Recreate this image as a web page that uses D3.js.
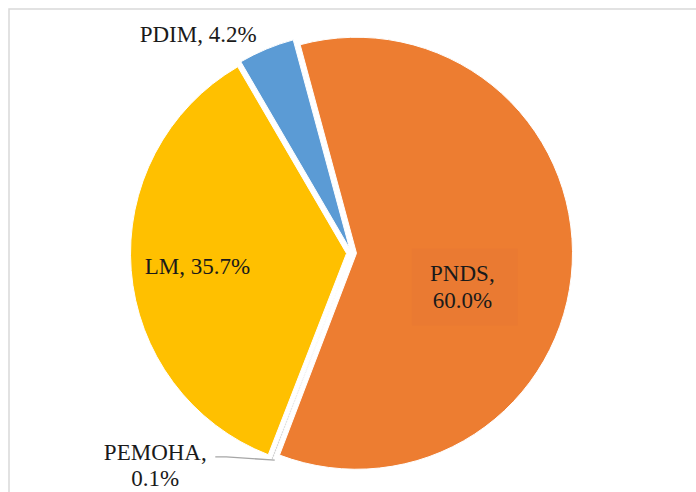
<!DOCTYPE html>
<html lang="en">
<head>
    <meta charset="UTF-8">
    <title>pie</title>
    <script src="https://d3js.org/d3.v7.min.js"></script>
    <style>
        body{ margin:0; background:#fff; }
        svg{ display:block; }
        text{ font-family:"Liberation Serif","Times New Roman",serif; fill:#1a1a1a; }
    </style>
</head>
<body>
    <div id="chart"></div>
    <script>
        // data, in drawing order (clockwise)
        const names = ['PNDS','PEMOHA','LM','PDIM'];
        const values = [60.0, 0.1, 35.7, 4.2];
        const colors = ['#ED7D31','#A5A5A5','#FFC000','#5B9BD5'];

        const width = 696, height = 492;
        const cx = 351.5, cy = 253, r = 216, explode = 5;

        const svg = d3.select('#chart').append('svg')
            .attr('width', width)
            .attr('height', height);

        // chart frame
        svg.append('rect')
            .attr('x', 9).attr('y', 9)
            .attr('width', width).attr('height', height)
            .attr('fill', 'none')
            .attr('stroke', '#d9d9d9')
            .attr('stroke-width', 1.5);

        const total = d3.sum(values);
        const start = -values[3] / total * 2 * Math.PI;
        const pie = d3.pie().sort(null)
            .startAngle(start)
            .endAngle(2 * Math.PI + start);
        const arcs = pie(values);
        const arc = d3.arc().innerRadius(0).outerRadius(r);

        const mid = d => (d.startAngle + d.endAngle) / 2;
        const off = (d, k) => [Math.sin(mid(d)) * k, -Math.cos(mid(d)) * k];

        const g = svg.append('g').attr('transform', `translate(${cx},${cy})`);

        g.selectAll('path')
            .data(arcs)
            .join('path')
            .attr('transform', d => `translate(${off(d, explode)})`)
            .attr('d', arc)
            .attr('fill', (d, i) => colors[i])
            .attr('stroke', '#fff')
            .attr('stroke-width', 1);

        // labels: [radius from centre, dx, dy] per slice
        const labelPos = [[111, 0, 28], [226, -115, 1], [154.5, 0, 1], [228, -65.5, -8.5]];
        const labelLines = names.map((n, i) => {
            const v = values[i].toFixed(1) + '%';
            return (i === 0 || i === 1) ? [n + ',', v] : [n + ', ' + v];
        });

        arcs.forEach((d, i) => {
            const [rr, dx, dy] = labelPos[i];
            const p = off(d, rr);
            const x = p[0] + dx, y = p[1] + dy;
            const lines = labelLines[i];
            const lh = 26.5;

            if (i === 0) {
                // label box inside PNDS
                g.append('rect')
                    .attr('x', x - 50.5).attr('y', y - 38)
                    .attr('width', 106).attr('height', 77)
                    .attr('fill', '#EA7A32');
            }
            if (i === 1) {
                // leader line to the thin slice
                const tip = off(d, r + explode + 1);
                g.append('polyline')
                    .attr('points', [[x + 60, y - 8], [x + 71, y - 8], [tip[0] + 3, tip[1]]].join(' '))
                    .attr('fill', 'none')
                    .attr('stroke', '#a6a6a6')
                    .attr('stroke-width', 1.3);
            }

            const t = g.append('text')
                .attr('text-anchor', 'middle')
                .attr('font-size', 23);
            lines.forEach((s, j) => {
                t.append('tspan')
                    .attr('x', x)
                    .attr('y', y + (j - (lines.length - 1) / 2) * lh + 8)
                    .text(s);
            });
        });
    </script>
</body>
</html>
